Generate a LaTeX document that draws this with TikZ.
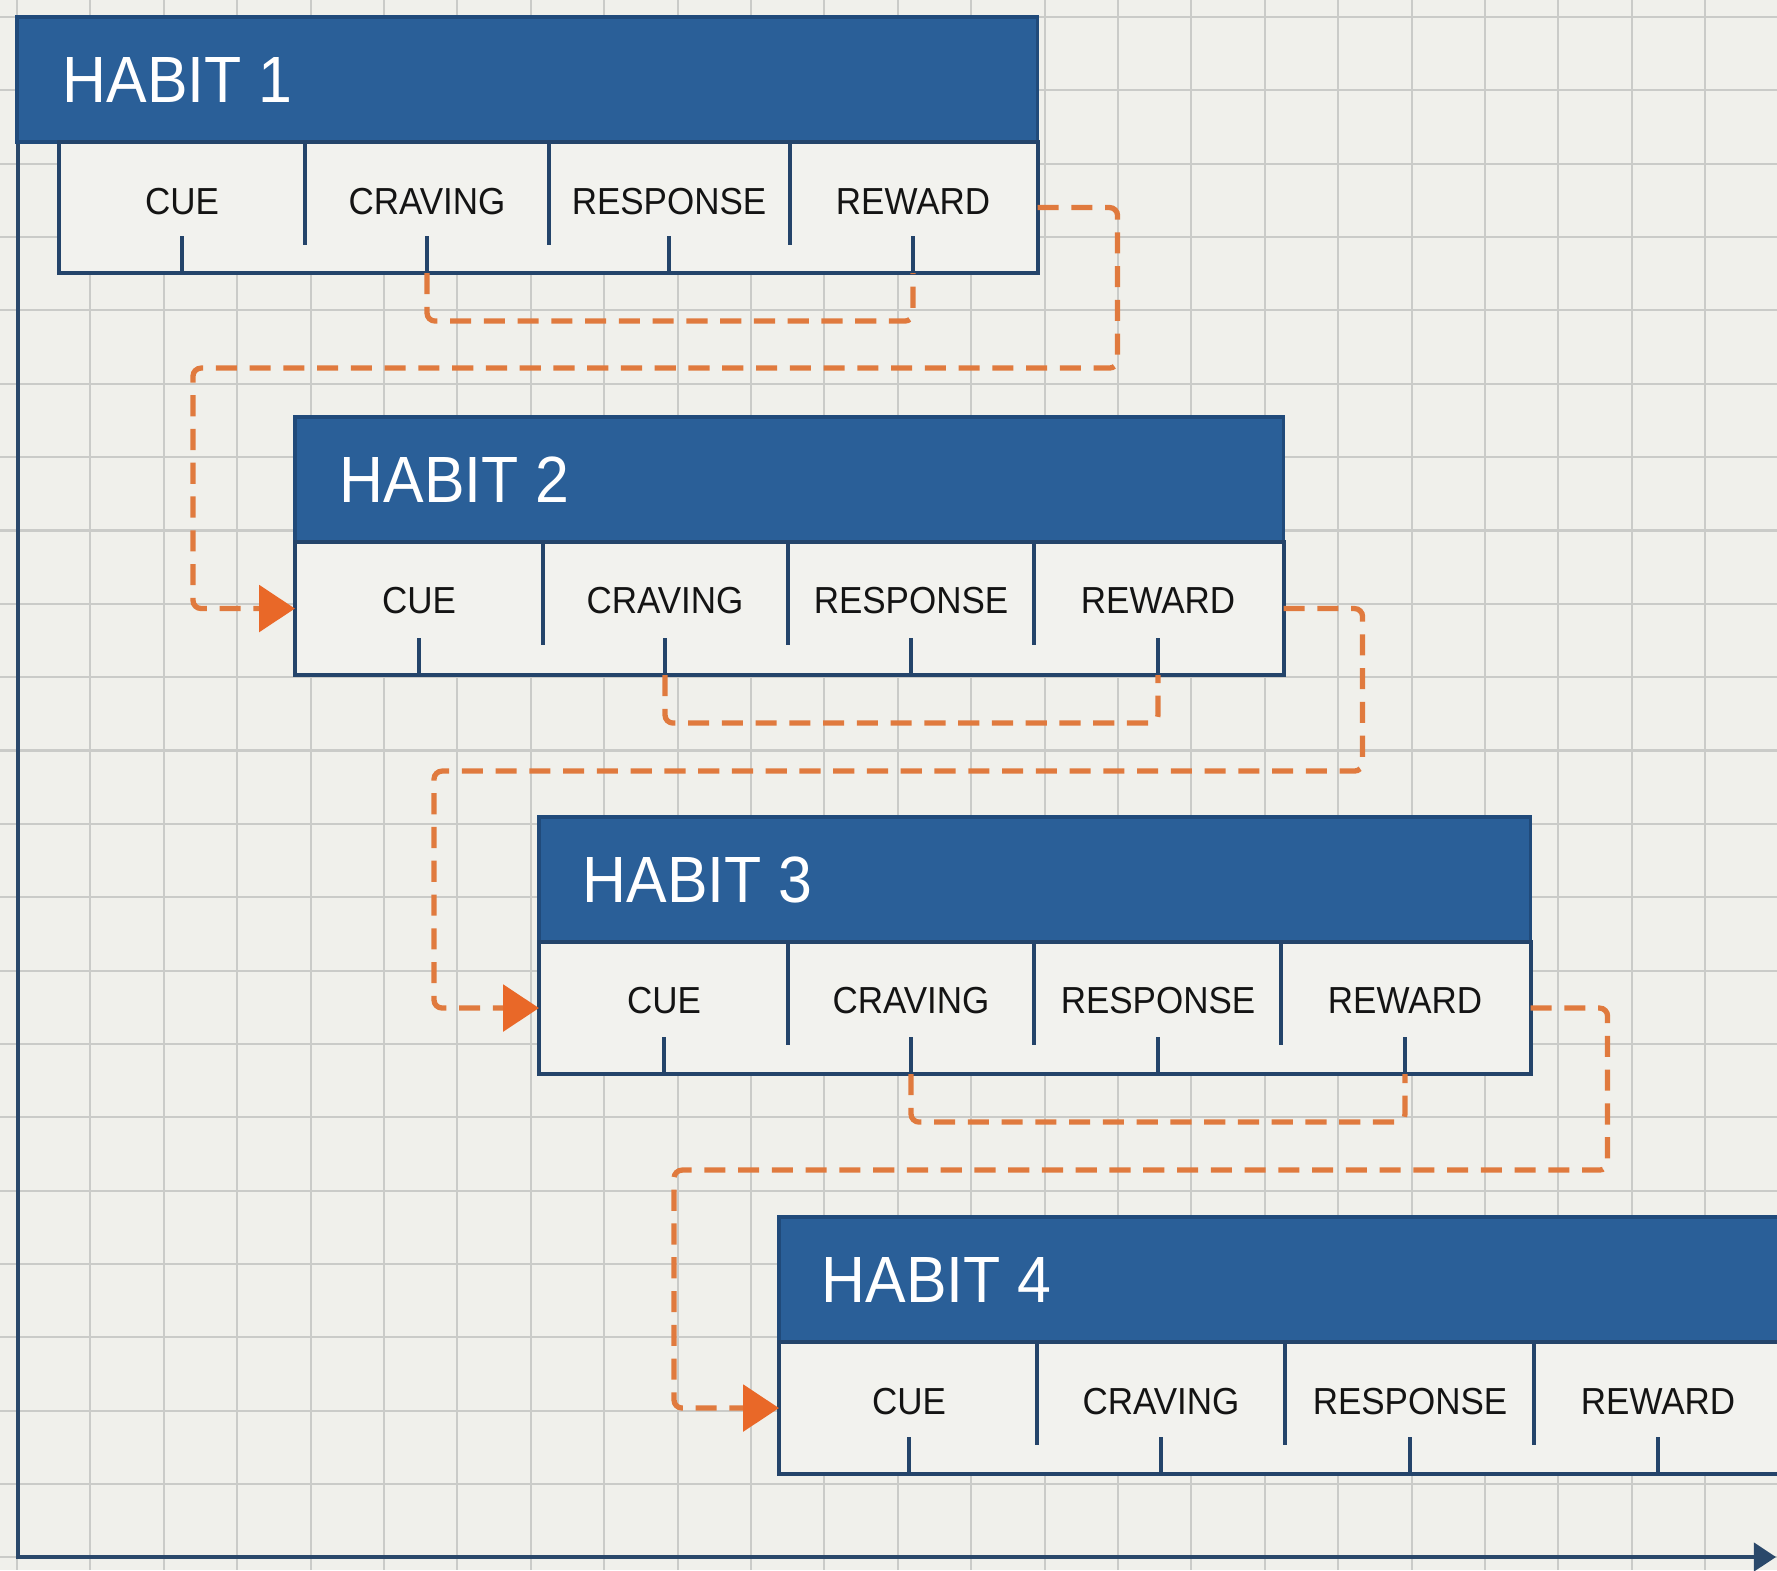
\documentclass[tikz,border=0pt]{standalone}
\usepackage{fontspec}
\setmainfont{Liberation Sans}
\newfontfamily\hfont[FakeStretch=0.93]{Liberation Sans}
\usetikzlibrary{arrows.meta,calc}
\definecolor{bgc}{RGB}{240,240,235}
\definecolor{gridc}{RGB}{202,203,200}
\definecolor{hdrfill}{RGB}{42,95,152}
\definecolor{hdrline}{RGB}{32,74,122}
\definecolor{boxfill}{RGB}{242,242,238}
\definecolor{boxline}{RGB}{36,68,106}
\definecolor{axisc}{RGB}{42,72,106}
\definecolor{orline}{RGB}{224,122,62}
\definecolor{orarrow}{RGB}{233,104,40}
\definecolor{txtc}{RGB}{20,20,20}
\begin{document}
\begin{tikzpicture}[x=0.01cm,y=-0.01cm,
  gridl/.style={draw=gridc,line width=0.6pt},
  hdrbox/.style={draw=hdrline,fill=hdrfill,line width=1.0pt,minimum height=1.25cm,anchor=north west,inner sep=0pt,outer sep=0pt},
  lowbox/.style={draw=boxline,fill=boxfill,line width=1.14pt,anchor=north west,inner sep=0pt,outer sep=0pt},
  hdrtext/.style={anchor=west,inner sep=0pt,text=white,font=\hfont\fontsize{18.6}{22}\selectfont},
  celltext/.style={inner sep=0pt,text=txtc,font=\hfont\fontsize{10.7}{13}\selectfont},
  divider/.style={draw=boxline,line width=1.14pt},
  tickline/.style={draw=boxline,line width=1.14pt},
  flow/.style={draw=orline,line width=1.5pt,dash pattern=on 6pt off 3.6pt,rounded corners=2.3pt},
  flowtip/.style={-{Triangle[length=10.2pt,width=13.1pt,color=orarrow,fill=orarrow]}},
  axisline/.style={draw=axisc,line width=1.14pt,-{Triangle[length=6.3pt,width=8pt,color=axisc,fill=axisc]}}
]
\useasboundingbox (0,0) rectangle (1777,1570);
\clip (0,0) rectangle (1777,1570);
\fill[bgc] (0,0) rectangle (1777,1570);
% grid
\foreach \i in {0,...,24} \draw[gridl] ({17+73.4*\i},0) -- ({17+73.4*\i},1570);
\foreach \j in {0,...,21} \draw[gridl] (0,{17+73.35*\j}) -- (1777,{17+73.35*\j});
% axis
\coordinate (ax0) at (18,17);
\coordinate (ax1) at (1776,1557);
\draw[axisline] (ax0) |- (ax1);

% ---------- HABIT 1
\node[hdrbox,minimum width=10.20cm] (h1) at (17,17) {};
\node[hdrtext] (h1t) at ($(h1.west)+(45,0)$) {HABIT 1};
\node[lowbox,minimum width=9.78cm,minimum height=1.31cm] (b1) at (59,142) {};
\foreach \x in {305,549,790} \draw[divider] (\x,142) -- (\x,245);
\node[celltext] (c1a) at (182,202) {CUE};
\node[celltext] (c1b) at (427,202) {CRAVING};
\node[celltext] (c1c) at (669,202) {RESPONSE};
\node[celltext] (c1d) at (913,202) {REWARD};
\foreach \c in {c1a,c1b,c1c,c1d} \draw[tickline] (\c |- b1.south) -- ++(0,-37);

% ---------- HABIT 2
\node[hdrbox,minimum width=9.88cm] (h2) at (295,417) {};
\node[hdrtext] (h2t) at ($(h2.west)+(44,0)$) {HABIT 2};
\node[lowbox,minimum width=9.88cm,minimum height=1.33cm] (b2) at (295,542) {};
\foreach \x in {543,788,1034} \draw[divider] (\x,542) -- (\x,645);
\node[celltext] (c2a) at (419,601) {CUE};
\node[celltext] (c2b) at (665,601) {CRAVING};
\node[celltext] (c2c) at (911,601) {RESPONSE};
\node[celltext] (c2d) at (1158,601) {REWARD};
\foreach \c in {c2a,c2b,c2c,c2d} \draw[tickline] (\c |- b2.south) -- ++(0,-37);

% ---------- HABIT 3
\node[hdrbox,minimum width=9.91cm] (h3) at (539,817) {};
\node[hdrtext] (h3t) at ($(h3.west)+(43,0)$) {HABIT 3};
\node[lowbox,minimum width=9.91cm,minimum height=1.32cm] (b3) at (539,942) {};
\foreach \x in {788,1034,1281} \draw[divider] (\x,942) -- (\x,1045);
\node[celltext] (c3a) at (664,1001) {CUE};
\node[celltext] (c3b) at (911,1001) {CRAVING};
\node[celltext] (c3c) at (1158,1001) {RESPONSE};
\node[celltext] (c3d) at (1405,1001) {REWARD};
\foreach \c in {c3a,c3b,c3c,c3d} \draw[tickline] (\c |- b3.south) -- ++(0,-37);

% ---------- HABIT 4
\node[hdrbox,minimum width=10.40cm] (h4) at (779,1217) {};
\node[hdrtext] (h4t) at ($(h4.west)+(42,0)$) {HABIT 4};
\node[lowbox,minimum width=10.40cm,minimum height=1.32cm] (b4) at (779,1342) {};
\foreach \x in {1037,1285,1534} \draw[divider] (\x,1342) -- (\x,1445);
\node[celltext] (c4a) at (909,1402) {CUE};
\node[celltext] (c4b) at (1161,1402) {CRAVING};
\node[celltext] (c4c) at (1410,1402) {RESPONSE};
\node[celltext] (c4d) at (1658,1402) {REWARD};
\foreach \c in {c4a,c4b,c4c,c4d} \draw[tickline] (\c |- b4.south) -- ++(0,-37);

% ---------- internal loops (craving -> reward)
\draw[flow] (c1b |- b1.south) -- ++(0,48) -| (c1d |- b1.south);
\draw[flow] (c2b |- b2.south) -- ++(0,48) -| (c2d |- b2.south);
\draw[flow] (c3b |- b3.south) -- ++(0,48) -| (c3d |- b3.south);

% ---------- chain connectors
\draw[flow,flowtip] (b1.east) -| ($(b1.south east)+(80,95)$) -| ($(b2.west)+(-102,0)$) -- (b2.west);
\draw[flow,flowtip] (b2.east) -| ($(b2.south east)+(79,96)$) -| ($(b3.west)+(-105,0)$) -- (b3.west);
\draw[flow,flowtip] (b3.east) -| ($(b3.south east)+(77,96)$) -| ($(b4.west)+(-105,0)$) -- (b4.west);
\end{tikzpicture}
\end{document}
